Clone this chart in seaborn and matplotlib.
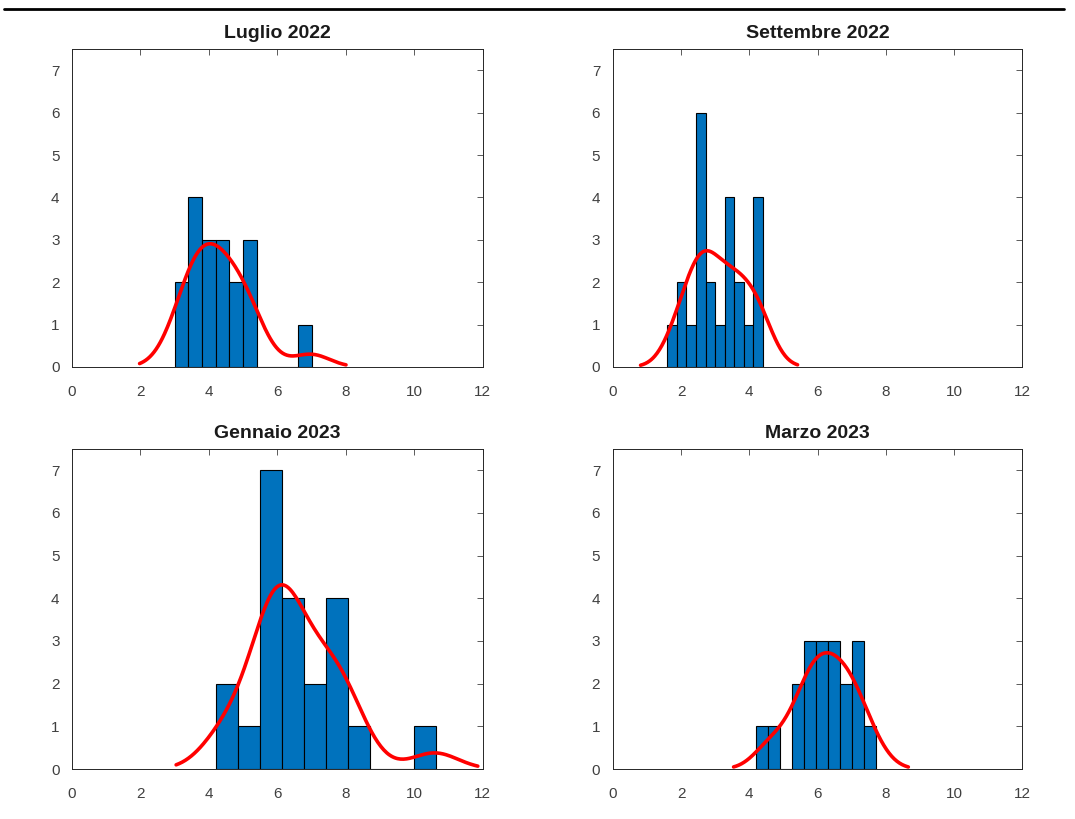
import numpy as np
import seaborn as sns
import matplotlib.pyplot as plt
from matplotlib.lines import Line2D

titles = ["Luglio 2022", "Settembre 2022", "Gennaio 2023", "Marzo 2023"]

# raw values, read bin by bin from the picture
luglio = [3.0, 3.3, 3.45, 3.55, 3.65, 3.75, 3.9, 4.0, 4.1,
          4.3, 4.4, 4.5, 4.7, 4.85, 5.1, 5.2, 5.35, 6.98]
settembre = [1.85, 1.95, 2.05, 2.3, 2.5, 2.55, 2.6, 2.6, 2.65, 2.7,
             2.8, 2.9, 3.1, 3.35, 3.4, 3.45, 3.5, 3.65, 3.75, 4.0,
             4.15, 4.25, 4.3, 4.38]
gennaio = [4.3, 4.6, 5.2, 5.6, 5.7, 5.8, 5.9, 5.95, 6.0, 6.1,
           6.2, 6.35, 6.5, 6.7, 6.9, 7.2, 7.5, 7.65, 7.8, 8.0,
           8.3, 10.6]
marzo = [4.5, 4.8, 5.35, 5.5, 5.7, 5.8, 5.9, 6.0, 6.1, 6.25,
         6.4, 6.5, 6.6, 6.75, 6.9, 7.05, 7.15, 7.3, 7.7]

# bin edges as drawn
edges_luglio = [3.0, 3.4, 3.8, 4.2, 4.6, 5.0, 5.4, 5.8, 6.2, 6.6, 7.0]
edges_settembre = [1.6, 1.88, 2.16, 2.44, 2.72, 3.0, 3.28, 3.56, 3.84, 4.12, 4.4]
edges_gennaio = [4.22, 4.862, 5.504, 6.146, 6.788, 7.43, 8.072, 8.714, 9.356, 9.998, 10.64]
edges_marzo = [4.2, 4.551, 4.902, 5.253, 5.604, 5.955, 6.306, 6.657, 7.008, 7.359, 7.71]

# kernel bandwidth and curve extent estimated from the red curves
kde_bw = [0.54, 0.46, 0.68, 0.48]
kde_cut = [1.9, 2.25, 1.85, 2.0]

datasets = [luglio, settembre, gennaio, marzo]
edges = [edges_luglio, edges_settembre, edges_gennaio, edges_marzo]

sns.set_style("white")
plt.rcParams["font.family"] = ["Liberation Sans", "DejaVu Sans"]

fig = plt.figure(figsize=(10.75, 8.19), dpi=100)
positions = [
    [0.067, 0.552, 0.382, 0.388],
    [0.570, 0.552, 0.381, 0.388],
    [0.067, 0.061, 0.382, 0.391],
    [0.570, 0.061, 0.381, 0.391],
]

for pos, title, vals, bins, bw, cut in zip(positions, titles, datasets, edges, kde_bw, kde_cut):
    ax = fig.add_axes(pos)
    factor = bw / np.std(vals, ddof=1)
    sns.histplot(x=vals, bins=bins, kde=True, ax=ax,
                 color="#0072BD", edgecolor="black", linewidth=0.8, alpha=1,
                 kde_kws={"bw_method": factor, "cut": cut},
                 line_kws={"linewidth": 2.6})
    ax.lines[-1].set_color("red")
    ax.set_xlim(0, 12)
    ax.set_ylim(0, 7.5)
    ax.set_xticks(range(0, 13, 2))
    ax.set_yticks(range(0, 8))
    ax.set_xlabel("")
    ax.set_ylabel("")
    ax.set_title(title, fontsize=14, fontweight="bold", pad=8, color="#1a1a1a")
    ax.tick_params(direction="in", top=True, right=True, length=4,
                   width=0.6, colors="#404040", labelsize=11)
    ax.tick_params(axis="x", pad=13)
    ax.tick_params(axis="y", pad=9)
    for sp in ax.spines.values():
        sp.set_color("#262626")
        sp.set_linewidth(0.7)

fig.add_artist(Line2D([0.004, 0.99], [0.989, 0.989], color="black",
                      linewidth=2, transform=fig.transFigure))

fig.savefig("out.png", dpi=100)
